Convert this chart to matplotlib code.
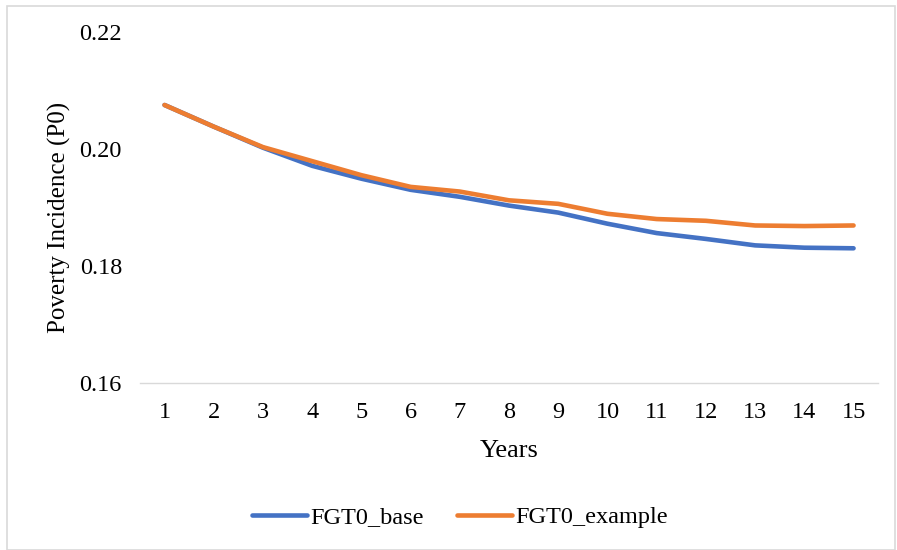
import matplotlib
matplotlib.use('Agg')
import matplotlib.pyplot as plt
from matplotlib.patches import Rectangle

plt.rcParams['font.family'] = ['Liberation Serif', 'DejaVu Serif']

years = list(range(1, 16))
fgt0_base = [0.2075, 0.2038, 0.2002, 0.1971, 0.1949, 0.1930, 0.1918, 0.1903,
             0.1891, 0.1872, 0.1856, 0.1846, 0.1835, 0.1831, 0.1830]
fgt0_example = [0.2075, 0.2038, 0.2003, 0.1979, 0.1955, 0.1935, 0.1927, 0.1912,
                0.1906, 0.1889, 0.1880, 0.1877, 0.1869, 0.1868, 0.1869]
yticks = [0.16, 0.18, 0.20, 0.22]

fig = plt.figure(figsize=(8.97, 5.5), dpi=100)
ax = fig.add_axes([0.156, 0.304, 0.823, 0.638])

ax.plot(years, fgt0_base, color='#4472C4', lw=3.3, solid_capstyle='round', label='FGT0_base')
ax.plot(years, fgt0_example, color='#ED7D31', lw=3.3, solid_capstyle='round', label='FGT0_example')

ax.set_ylim(0.16, 0.22)
ax.set_xlim(0.5, 15.5)
ax.set_yticks(yticks)
ax.set_yticklabels(['%.2f' % v for v in yticks])
ax.set_xticks(years)
ax.tick_params(axis='both', length=0, labelsize=17.5)
ax.tick_params(axis='y', pad=13)
ax.tick_params(axis='x', pad=14)

for s in ['top', 'right', 'left']:
    ax.spines[s].set_visible(False)
ax.spines['bottom'].set_color('#d9d9d9')
ax.spines['bottom'].set_linewidth(1.0)

ax.set_xlabel('Years', fontsize=19, labelpad=12)
ax.set_ylabel('Poverty Incidence (P0)', fontsize=18)
ax.yaxis.set_label_coords(-0.094, 0.47)

fig.legend(loc='center', bbox_to_anchor=(0.513, 0.06), ncol=2, frameon=False,
           fontsize=17.5, handlelength=2.25, handletextpad=0.15, columnspacing=1.36)

fig.patches.append(Rectangle((0.008, 0.0), 0.99, 0.989, transform=fig.transFigure,
                             fill=False, edgecolor='#d9d9d9', lw=1.2))

fig.savefig('out.png', dpi=100)
